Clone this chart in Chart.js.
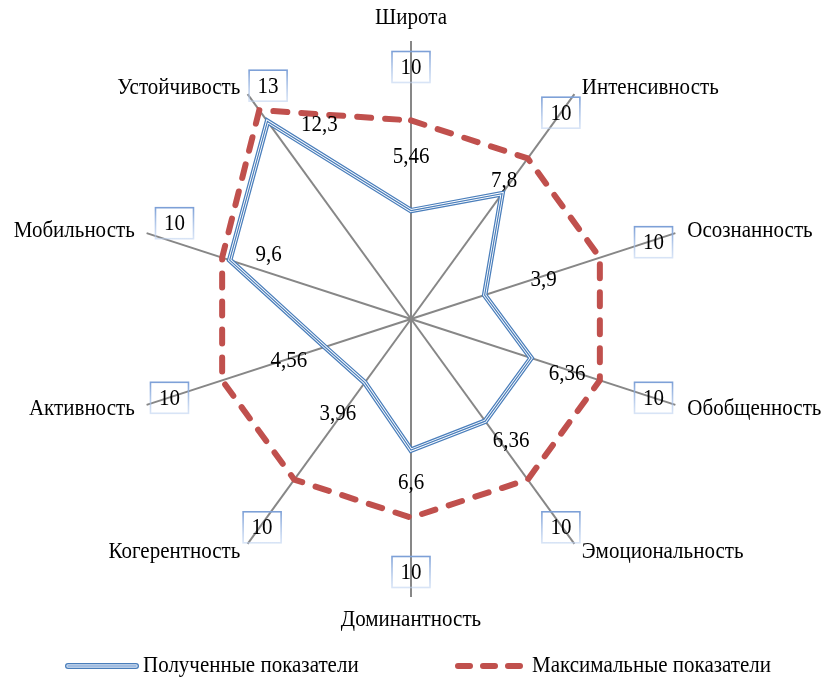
<!DOCTYPE html>
<html>
<head>
<meta charset="utf-8">
<script src="https://cdn.jsdelivr.net/npm/chart.js@4.4.1/dist/chart.umd.min.js"></script>
<style>
  body { margin: 0; background: #fff; }
  #wrap { width: 822px; height: 684px; }
</style>
</head>
<body>
<div id="wrap"><canvas id="radar" width="822" height="684"></canvas></div>
<script>
const categories = ["Широта", "Интенсивность", "Осознанность", "Обобщенность", "Эмоциональность",
  "Доминантность", "Когерентность", "Активность", "Мобильность", "Устойчивость"];
const obtained = [5.46, 7.8, 3.9, 6.36, 6.36, 6.6, 3.96, 4.56, 9.6, 12.3];
const maximum = [10, 10, 10, 10, 10, 10, 10, 10, 10, 13];
const seriesNames = ["Полученные показатели", "Максимальные показатели"];

// where each "obtained" label sits relative to its point (px)
const valueLabelShift = [[0, -54], [2, -13], [59, -15], [36, 16], [26, 20],
  [0, 33], [-27, 31], [-36, 14], [39, -5], [52, 4]];
// nudges for the boxed "maximum" labels
const boxShift = [[0, 3], [0, 0], [0, 2], [0, 0], [0, 2],
  [0, -2], [1, 2], [1, 0], [6, -17], [7, -27]];

const FONT = "21px 'Times New Roman', 'Liberation Serif', serif";
const BLUE = "#4a7ebb";
const RED = "#c0504d";

const fmt = (v) => String(v).replace(".", ",");

// text is a bit taller than wide in the original
const text = (ctx, s, x, y) => {
  ctx.save();
  ctx.translate(x, y);
  ctx.scale(1, 1.1);
  ctx.fillText(s, 0, 0);
  ctx.restore();
};

const drawBox = (ctx, x, y, s) => {
  const w = 38, h = 31;
  const g = ctx.createLinearGradient(0, y - h / 2, 0, y + h / 2);
  g.addColorStop(0, "rgba(125,160,215,1)");
  g.addColorStop(1, "rgba(190,210,240,0.6)");
  ctx.strokeStyle = g;
  ctx.lineWidth = 1.6;
  ctx.strokeRect(x - w / 2, y - h / 2, w, h);
  ctx.textAlign = "center";
  text(ctx, s, x, y + 1);
};

const tripleLine = (ctx, x1, x2, y) => {
  [[6, BLUE], [3.4, "#dbe6f4"], [1.4, "#8fb0dc"]].forEach(([w, c]) => {
    ctx.beginPath();
    ctx.lineCap = "round";
    ctx.lineWidth = w;
    ctx.strokeStyle = c;
    ctx.moveTo(x1, y);
    ctx.lineTo(x2, y);
    ctx.stroke();
  });
};

const labelsPlugin = {
  id: "labels",
  afterDraw(chart) {
    const ctx = chart.ctx;
    const r = chart.scales.r;
    ctx.save();
    ctx.font = FONT;
    ctx.fillStyle = "#000";
    ctx.textBaseline = "middle";

    // category names around the axis ends
    categories.forEach((name, i) => {
      const a = r.getIndexAngle(i);
      const p = r.getPointPosition(i, r.drawingArea);
      const s = Math.sin(a), c = Math.cos(a);
      if (Math.abs(s) < 0.01) {
        ctx.textAlign = "center";
        text(ctx, name, p.x, p.y + (c > 0 ? -23 : 23));
      } else {
        ctx.textAlign = s > 0 ? "left" : "right";
        text(ctx, name, p.x + s * 12.5, p.y - c * 8 + (c < 0 ? 2 : 0));
      }
    });

    // obtained values
    ctx.textAlign = "center";
    obtained.forEach((v, i) => {
      const q = r.getPointPositionForValue(i, v);
      text(ctx, fmt(v), q.x + valueLabelShift[i][0], q.y + valueLabelShift[i][1]);
    });

    // maximum values in boxes
    maximum.forEach((v, i) => {
      const a = r.getIndexAngle(i) - Math.PI / 2;
      const d = 255;
      drawBox(ctx, r.xCenter + Math.cos(a) * d + boxShift[i][0],
        r.yCenter + Math.sin(a) * d + boxShift[i][1], fmt(v));
    });

    // legend
    const ly = 666;
    tripleLine(ctx, 68, 136, ly);
    ctx.textAlign = "left";
    ctx.fillStyle = "#000";
    text(ctx, seriesNames[0], 143, ly);
    ctx.beginPath();
    ctx.setLineDash([12, 13]);
    ctx.lineCap = "round";
    ctx.lineWidth = 6;
    ctx.strokeStyle = RED;
    ctx.moveTo(458, ly);
    ctx.lineTo(521, ly);
    ctx.stroke();
    ctx.setLineDash([]);
    text(ctx, seriesNames[1], 532, ly);
    ctx.restore();
  }
};

const ctx = document.getElementById("radar").getContext("2d");
new Chart(ctx, {
  type: "radar",
  data: {
    labels: categories,
    datasets: [
      {
        label: seriesNames[1],
        data: maximum,
        borderColor: RED,
        borderWidth: 6,
        borderDash: [14, 14],
        borderCapStyle: "round",
        fill: false,
        pointRadius: 0,
        order: 0,
      },
      { label: seriesNames[0], data: obtained, borderColor: BLUE, borderWidth: 1.2, fill: false, pointRadius: 0, order: 1 },
      { label: "", data: obtained, borderColor: "#ffffff", borderWidth: 3, fill: false, pointRadius: 0, order: 2 },
      { label: "", data: obtained, borderColor: BLUE, borderWidth: 5.5, fill: false, pointRadius: 0, order: 3 },
    ],
  },
  options: {
    responsive: false,
    animation: false,
    layout: { padding: { left: 133, right: 133, top: 41, bottom: 87 } },
    elements: { line: { tension: 0, borderJoinStyle: "miter" } },
    scales: {
      r: {
        min: 0,
        max: 14,
        ticks: { display: false },
        grid: { display: false },
        angleLines: { color: "#878787", lineWidth: 2 },
        pointLabels: { display: false },
      },
    },
    plugins: {
      legend: { display: false },
      tooltip: { enabled: false },
    },
  },
  plugins: [labelsPlugin],
});
</script>
</body>
</html>
